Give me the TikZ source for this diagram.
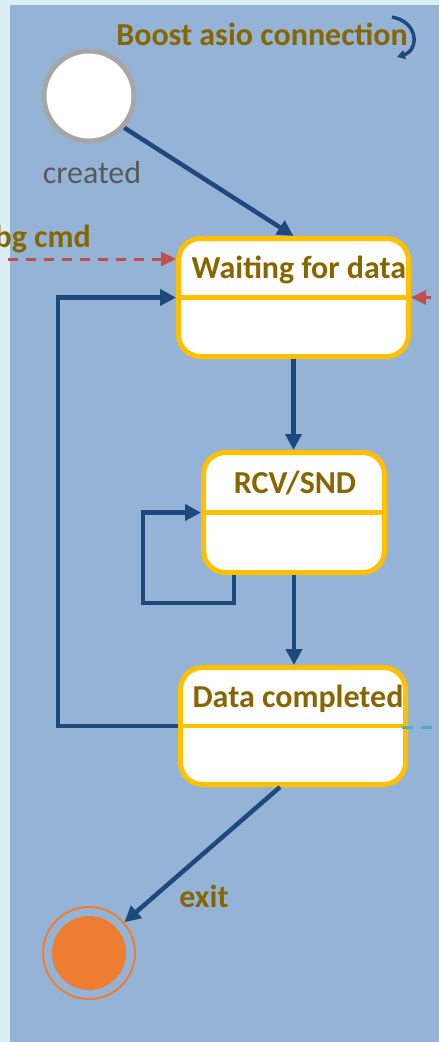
\documentclass[tikz,border=0pt]{standalone}
\usepackage{fontspec}
\setmainfont{Carlito}
\usetikzlibrary{arrows.meta}

\definecolor{pagebg}{HTML}{DAEEF3}
\definecolor{panelbg}{HTML}{95B3D7}
\definecolor{flowblue}{HTML}{1F497D}
\definecolor{stateborder}{HTML}{FFC000}
\definecolor{labelgold}{HTML}{876600}
\definecolor{eventred}{HTML}{C0504D}
\definecolor{eventcyan}{HTML}{4BACC6}
\definecolor{finalorange}{HTML}{ED7D31}
\definecolor{initgray}{HTML}{A6A6A6}
\definecolor{textgray}{HTML}{595959}

\tikzset{
  statebox/.style={draw=stateborder, fill=white, line width=5pt,
    rounded corners=22pt, inner sep=0pt},
  divider/.style={draw=stateborder, line width=4.5pt},
  title/.style={anchor=base, text=labelgold, inner sep=0pt,
    font=\fontsize{32}{38}\selectfont\bfseries},
  flow/.style={draw=flowblue, line width=4.5pt,
    -{Triangle[length=16pt,width=16pt]}},
  event/.style={draw=eventred, line width=3pt, dash pattern=on 10pt off 8pt,
    -{Triangle[length=15pt,width=14pt]}},
  notify/.style={draw=eventcyan, line width=3pt, dash pattern=on 11pt off 8pt},
}

\begin{document}
\begin{tikzpicture}[x=1pt, y=-1pt]
\useasboundingbox (0,0) rectangle (439,1042);
\clip (0,0) rectangle (439,1042);

% backdrop and state-machine panel
\fill[pagebg] (0,0) rectangle (439,1042);
\fill[panelbg] (10,5) rectangle (439,1042);

% machine name with its self transition
\node[title] (machine) at (262,45) {Boost asio connection};
\coordinate (mloopA) at (392,17);
\coordinate (mloopB) at (397,57);
\draw[draw=flowblue, line width=3.5pt, -{Triangle[length=8pt,width=9pt]}]
  (mloopA) .. controls (419,22) and (419,50) .. (mloopB);

% initial pseudo state
\node[circle, draw=initgray, fill=white, line width=5pt, minimum size=90pt,
  inner sep=0pt] (created) at (89,96) {};
\node[anchor=base, text=textgray, inner sep=0pt,
  font=\fontsize{32}{38}\selectfont] (createdlbl) at (92,183) {created};

% states
\node[statebox, minimum width=230pt, minimum height=118pt] (wait) at (293.5,297.5) {};
\draw[divider] (wait.west) -- (wait.east);
\node[title] (waitT) at (299,278) {Waiting for data};

\node[statebox, minimum width=181pt, minimum height=120pt] (rcv) at (294,512.5) {};
\draw[divider] (rcv.west) -- (rcv.east);
\node[title] (rcvT) at (295,493) {RCV/SND};

\node[statebox, minimum width=225pt, minimum height=117pt] (done) at (293,726) {};
\draw[divider] (done.west) -- (done.east);
\node[title] (doneT) at (298,707) {Data completed};

% final state
\node[circle, draw=finalorange, line width=2pt, minimum size=92pt,
  inner sep=0pt] (final) at (89,953) {};
\node[circle, fill=finalorange, minimum size=74pt, inner sep=0pt] (finalcore)
  at (final.center) {};

% transitions
\draw[flow] (created.-42) -- (wait.north);
\draw[flow] (wait.south) -- (wait.south |- rcv.north);

\coordinate (rcvloop) at (143,603);
\draw[flow] ([xshift=-60pt]rcv.south) |- (rcvloop) |- (rcv.west);

\draw[flow] (rcv.south) -- (rcv.south |- done.north);

\coordinate (doneloop) at (58,500);
\draw[flow] (done.west) -| (doneloop) |- (wait.west);

\draw[flow] ([xshift=-13pt]done.south) -- (final);
\node[title] (exitlbl) at (204,907) {exit};

% external events
\node[title, anchor=base east] (bgcmd) at (91,247) {bg cmd};
\coordinate (bgsrc) at (8,259);
\draw[event] (bgsrc) -- (bgsrc -| wait.west);

\coordinate (rightsrc) at (449,297.5);
\draw[event] (rightsrc) -- (wait.east);

\coordinate (notifydst) at (449,727);
\draw[notify] ([xshift=-6pt]done.east |- notifydst) -- (notifydst);
\end{tikzpicture}
\end{document}
